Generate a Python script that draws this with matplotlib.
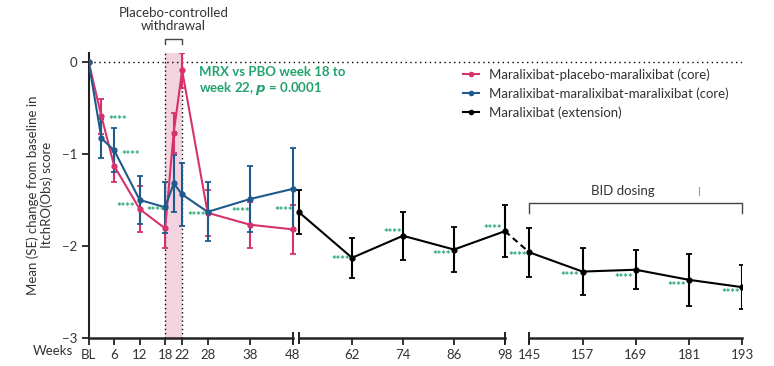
import matplotlib.pyplot as plt
from matplotlib.lines import Line2D

plt.rcParams['font.family'] = ['Lato', 'DejaVu Sans']
plt.rcParams['axes.unicode_minus'] = True

# 数据
core_weeks = [0, 3, 6, 12, 18, 20, 22, 28, 38, 48]
pbo_mean = [0, -0.59, -1.13, -1.60, -1.81, -0.77, -0.09, -1.64, -1.77, -1.82]
pbo_se = [0, 0.19, 0.18, 0.25, 0.21, 0.22, 0.19, 0.25, 0.25, 0.27]
mrx_mean = [0, -0.83, -0.96, -1.50, -1.58, -1.32, -1.44, -1.63, -1.49, -1.38]
mrx_se = [0, 0.21, 0.24, 0.26, 0.28, 0.31, 0.34, 0.32, 0.36, 0.45]

ext_weeks1 = [48, 62, 74, 86, 98]
ext_mean1 = [-1.63, -2.13, -1.89, -2.04, -1.84]
ext_se1 = [0.24, 0.22, 0.26, 0.245, 0.28]
ext_weeks2 = [145, 157, 169, 181, 193]
ext_mean2 = [-2.07, -2.28, -2.26, -2.37, -2.45]
ext_se2 = [0.265, 0.26, 0.215, 0.285, 0.24]

tick_weeks = [0, 6, 12, 18, 22, 28, 38, 48, 62, 74, 86, 98, 145, 157, 169, 181, 193]
tick_labels = ['BL', '6', '12', '18', '22', '28', '38', '48', '62', '74', '86', '98',
               '145', '157', '169', '181', '193']

star_weeks = [6.9, 10.0, 8.8, 15.7, 25.5, 35.9, 46.0, 59.4, 71.6, 83.2, 95.2, 101.1,
              154.2, 166.2, 178.2, 190.4]
star_vals = [-0.63, -1.02, -1.58, -1.63, -1.68, -1.64, -1.63, -2.16, -1.86, -2.10, -1.82,
             -2.12, -2.33, -2.36, -2.44, -2.52]

RED = '#d6336c'
BLUE = '#1f5a8c'
GREEN = '#22a36e'
PINK = '#f3d3df'
TXT = '#333333'

# 断轴：145周以后压缩到98之后
GAP = 5.72
S3 = 1.045
EXT_SHIFT = 1.4  # 延伸期48周点略向右


def pos(w):
    return w if w <= 120 else 98 + GAP + (w - 145) * S3


fig = plt.figure(figsize=(7.74, 3.66), dpi=100)
ax = fig.add_axes([88.7 / 774, 1 - 337.7 / 366, (742.3 - 88.7) / 774, (337.7 - 53) / 366])
ax.set_xlim(0, pos(193))
ax.set_ylim(-3, 0.1)

# 安慰剂撤药阶段阴影
ax.axvspan(18, 22, color=PINK, lw=0, zorder=0)
for w in (18, 22):
    ax.axvline(w, color='black', ls=(0, (1, 2)), lw=1, zorder=1)
ax.plot([0, pos(193)], [0, 0], color='black', ls=(0, (1, 2.5)), lw=1, zorder=1)

ekw = dict(capsize=2, capthick=1.3, elinewidth=1.5, lw=1.5, marker='o', ms=3.5, zorder=3)
ax.errorbar(core_weeks, pbo_mean, yerr=pbo_se, color=RED, **ekw)
ax.errorbar(core_weeks, mrx_mean, yerr=mrx_se, color=BLUE, **ekw)

x1 = [pos(w) for w in ext_weeks1]
x1[0] += EXT_SHIFT
x2 = [pos(w) for w in ext_weeks2]
ax.errorbar(x1, ext_mean1, yerr=ext_se1, color='black', **ekw)
ax.errorbar(x2, ext_mean2, yerr=ext_se2, color='black', **ekw)
ax.plot([x1[-1], x2[0]], [ext_mean1[-1], ext_mean2[0]], color='black', lw=1.5, ls=(0, (3, 2)), zorder=3)

for w, v in zip(star_weeks, star_vals):
    ax.text(pos(w), v, '****', color=GREEN, fontsize=8, ha='center', va='center',
            fontweight='bold', zorder=4)

ax.text(26.0, -0.04, 'MRX vs PBO week 18 to\nweek 22, $\\mathbfit{p}$ = 0.0001', color=GREEN,
        fontsize=9.5, fontweight='bold', ha='left', va='top', linespacing=1.2)

# 坐标轴样式
for s in ('top', 'right', 'bottom'):
    ax.spines[s].set_visible(False)
ax.spines['left'].set_linewidth(1.5)
ax.spines['left'].set_color('#222222')
ax.set_yticks([0, -1, -2, -3])
ax.set_yticklabels(['0', '\u22121', '\u22122', '\u22123'])
ax.set_xticks([pos(w) for w in tick_weeks])
ax.set_xticklabels(tick_labels)
ax.tick_params(axis='both', direction='out', length=5, width=1.3, colors='#222222',
               labelsize=9.5, labelcolor=TXT)
ax.tick_params(axis='x', pad=3)

# 断开的x轴
axkw = dict(color='#222222', lw=1.8, clip_on=False, zorder=5)
ax.plot([0, 48], [-3, -3], **axkw)
ax.plot([48 + EXT_SHIFT, 98], [-3, -3], **axkw)
ax.plot([pos(145), pos(193)], [-3, -3], **axkw)
for xb in (48, 48 + EXT_SHIFT, 98, pos(145)):
    ax.plot([xb], [-3], marker='|', ms=9, mew=1.4, color='#222222', clip_on=False, zorder=5)

ax.text(-8.4, -3.145, 'Weeks', fontsize=9.5, color=TXT, ha='center', va='center')
ax.set_ylabel('Mean (SE) change from baseline in\nItchRO(Obs) score', fontsize=9.5,
              color=TXT, labelpad=6, linespacing=1.15)

# 安慰剂对照撤药括号
ax.text(20, 0.47, 'Placebo-controlled\nwithdrawal', fontsize=9.5, color=TXT,
        ha='center', va='center', linespacing=1.1)
ax.plot([18, 18, 22, 22], [0.2, 0.255, 0.255, 0.2], color='#444444', lw=1, clip_on=False)

# BID 给药括号
ax.plot([pos(145), pos(145), pos(193), pos(193)], [-1.647, -1.533, -1.533, -1.647],
        color='#444444', lw=1, clip_on=False)
ax.text((pos(145) + pos(193)) / 2 - 3, -1.407, 'BID dosing', fontsize=9.5, color=TXT,
        ha='center', va='center')
ax.plot([143.7, 143.7], [-1.36, -1.45], color='#999999', lw=0.8)

handles = [Line2D([], [], color=c, marker='o', ms=3, lw=1.5) for c in (RED, BLUE, 'black')]
labels = ['Maralixibat-placebo-maralixibat (core)',
          'Maralixibat-maralixibat-maralixibat (core)',
          'Maralixibat (extension)']
leg = fig.legend(handles, labels, loc='upper left', bbox_to_anchor=(463 / 774, 1 - 68 / 366),
                 frameon=False, fontsize=9.5, handlelength=1.2, handletextpad=0.8,
                 labelspacing=0.5, borderpad=0, borderaxespad=0, labelcolor=TXT)

plt.savefig('out.png', dpi=100)
